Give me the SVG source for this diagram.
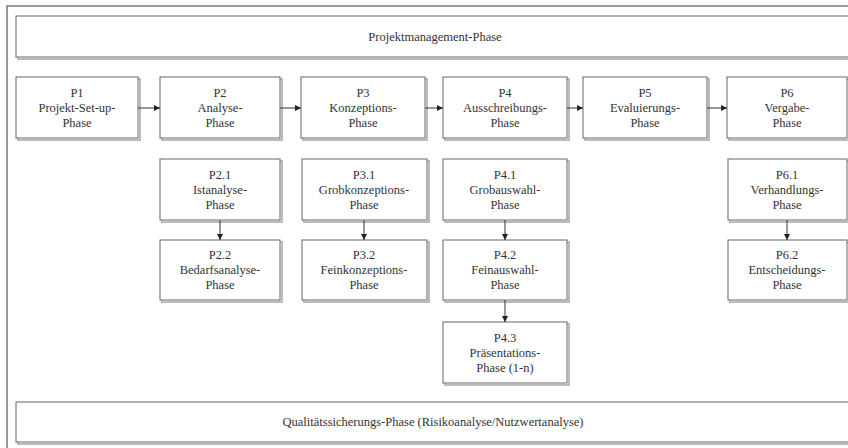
<svg xmlns="http://www.w3.org/2000/svg" width="848" height="448" viewBox="0 0 848 448">
<defs>
<style>
.frame{fill:#fff;stroke:#555;stroke-width:1.2}
.shadow{fill:none;stroke:#bbb;stroke-width:2}
.box{fill:#fff;stroke:#666;stroke-width:1}
.t{font-family:"Liberation Serif","Times New Roman",serif;font-size:12.5px;fill:#333;text-anchor:middle}
.c{stroke:#333;stroke-width:1;fill:none}
</style>
<marker id="ah" viewBox="0 0 10 10" refX="10" refY="5" markerWidth="6" markerHeight="6" orient="auto" markerUnits="userSpaceOnUse">
<path d="M0,0 L10,5 L0,10 z" fill="#222"/>
</marker>
</defs>
<rect width="848" height="448" fill="#fff"/>
<rect x="9" y="8" width="850" height="450" class="shadow"/>
<rect x="7" y="6" width="850" height="450" class="frame"/>

<g id="pm">
<rect x="18" y="18" width="840" height="41" class="shadow"/>
<rect x="16" y="16" width="840" height="41" class="box"/>
<text x="435" y="41" class="t">Projektmanagement-Phase</text>
</g>

<g id="p1">
<rect x="18" y="79" width="122" height="61" class="shadow"/>
<rect x="16" y="77" width="122" height="61" class="box"/>
<text x="77" y="97" class="t">P1</text>
<text x="77" y="112" class="t">Projekt-Set-up-</text>
<text x="77" y="127" class="t">Phase</text>
</g>
<g id="p2">
<rect x="162" y="79" width="120" height="61" class="shadow"/>
<rect x="160" y="77" width="120" height="61" class="box"/>
<text x="220" y="97" class="t">P2</text>
<text x="220" y="112" class="t">Analyse-</text>
<text x="220" y="127" class="t">Phase</text>
</g>
<g id="p3">
<rect x="303" y="79" width="124" height="61" class="shadow"/>
<rect x="301" y="77" width="124" height="61" class="box"/>
<text x="363" y="97" class="t">P3</text>
<text x="363" y="112" class="t">Konzeptions-</text>
<text x="363" y="127" class="t">Phase</text>
</g>
<g id="p4">
<rect x="445" y="79" width="124" height="61" class="shadow"/>
<rect x="443" y="77" width="124" height="61" class="box"/>
<text x="505" y="97" class="t">P4</text>
<text x="505" y="112" class="t">Ausschreibungs-</text>
<text x="505" y="127" class="t">Phase</text>
</g>
<g id="p5">
<rect x="585" y="79" width="124" height="61" class="shadow"/>
<rect x="583" y="77" width="124" height="61" class="box"/>
<text x="645" y="97" class="t">P5</text>
<text x="645" y="112" class="t">Evaluierungs-</text>
<text x="645" y="127" class="t">Phase</text>
</g>
<g id="p6">
<rect x="729" y="79" width="120" height="61" class="shadow"/>
<rect x="727" y="77" width="120" height="61" class="box"/>
<text x="787" y="97" class="t">P6</text>
<text x="787" y="112" class="t">Vergabe-</text>
<text x="787" y="127" class="t">Phase</text>
</g>

<g id="p21">
<rect x="162" y="161" width="120" height="61" class="shadow"/>
<rect x="160" y="159" width="120" height="61" class="box"/>
<text x="220" y="179" class="t">P2.1</text>
<text x="220" y="194" class="t">Istanalyse-</text>
<text x="220" y="209" class="t">Phase</text>
</g>
<g id="p22">
<rect x="162" y="242" width="120" height="60" class="shadow"/>
<rect x="160" y="240" width="120" height="60" class="box"/>
<text x="220" y="259" class="t">P2.2</text>
<text x="220" y="274" class="t">Bedarfsanalyse-</text>
<text x="220" y="289" class="t">Phase</text>
</g>
<g id="p31">
<rect x="304" y="161" width="125" height="61" class="shadow"/>
<rect x="302" y="159" width="125" height="61" class="box"/>
<text x="364" y="179" class="t">P3.1</text>
<text x="364" y="194" class="t">Grobkonzeptions-</text>
<text x="364" y="209" class="t">Phase</text>
</g>
<g id="p32">
<rect x="304" y="242" width="125" height="60" class="shadow"/>
<rect x="302" y="240" width="125" height="60" class="box"/>
<text x="364" y="259" class="t">P3.2</text>
<text x="364" y="274" class="t">Feinkonzeptions-</text>
<text x="364" y="289" class="t">Phase</text>
</g>
<g id="p41">
<rect x="445" y="161" width="124" height="61" class="shadow"/>
<rect x="443" y="159" width="124" height="61" class="box"/>
<text x="505" y="179" class="t">P4.1</text>
<text x="505" y="194" class="t">Grobauswahl-</text>
<text x="505" y="209" class="t">Phase</text>
</g>
<g id="p42">
<rect x="445" y="242" width="124" height="60" class="shadow"/>
<rect x="443" y="240" width="124" height="60" class="box"/>
<text x="505" y="259" class="t">P4.2</text>
<text x="505" y="274" class="t">Feinauswahl-</text>
<text x="505" y="289" class="t">Phase</text>
</g>
<g id="p43">
<rect x="445" y="324" width="124" height="61" class="shadow"/>
<rect x="443" y="322" width="124" height="61" class="box"/>
<text x="505" y="342" class="t">P4.3</text>
<text x="505" y="357" class="t">Präsentations-</text>
<text x="505" y="372" class="t">Phase (1-n)</text>
</g>
<g id="p61">
<rect x="730" y="161" width="119" height="61" class="shadow"/>
<rect x="728" y="159" width="119" height="61" class="box"/>
<text x="787" y="179" class="t">P6.1</text>
<text x="787" y="194" class="t">Verhandlungs-</text>
<text x="787" y="209" class="t">Phase</text>
</g>
<g id="p62">
<rect x="730" y="242" width="119" height="60" class="shadow"/>
<rect x="728" y="240" width="119" height="60" class="box"/>
<text x="787" y="259" class="t">P6.2</text>
<text x="787" y="274" class="t">Entscheidungs-</text>
<text x="787" y="289" class="t">Phase</text>
</g>

<g id="qs">
<rect x="18" y="404" width="840" height="40" class="shadow"/>
<rect x="16" y="402" width="840" height="40" class="box"/>
<text x="433" y="426" class="t">Qualitätssicherungs-Phase (Risikoanalyse/Nutzwertanalyse)</text>
</g>

<g id="connectors">
<line x1="138" y1="108" x2="160" y2="108" class="c" marker-end="url(#ah)"/>
<line x1="280" y1="108" x2="301" y2="108" class="c" marker-end="url(#ah)"/>
<line x1="425" y1="108" x2="443" y2="108" class="c" marker-end="url(#ah)"/>
<line x1="567" y1="108" x2="583" y2="108" class="c" marker-end="url(#ah)"/>
<line x1="707" y1="108" x2="727" y2="108" class="c" marker-end="url(#ah)"/>
<line x1="220" y1="220" x2="220" y2="240" class="c" marker-end="url(#ah)"/>
<line x1="364" y1="220" x2="364" y2="240" class="c" marker-end="url(#ah)"/>
<line x1="505" y1="220" x2="505" y2="240" class="c" marker-end="url(#ah)"/>
<line x1="505" y1="300" x2="505" y2="322" class="c" marker-end="url(#ah)"/>
<line x1="787" y1="220" x2="787" y2="240" class="c" marker-end="url(#ah)"/>
</g>
</svg>
